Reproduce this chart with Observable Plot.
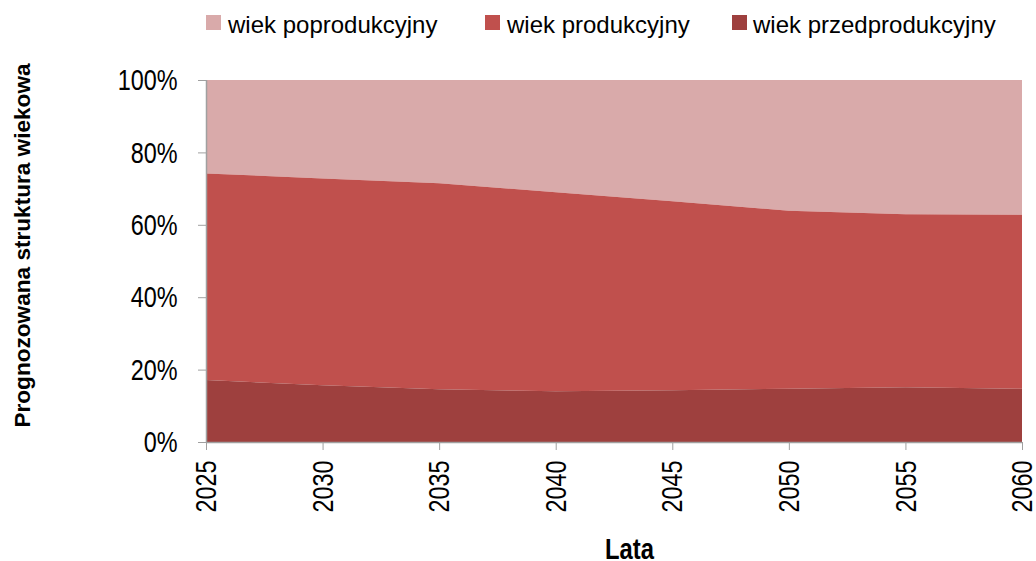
<!DOCTYPE html>
<html>
<head>
<meta charset="utf-8">
<script src="https://cdn.jsdelivr.net/npm/d3@7"></script>
<script src="https://cdn.jsdelivr.net/npm/@observablehq/plot@0.6"></script>
<style>
  html, body { margin: 0; padding: 0; background: #fff; }
  #wrap { position: relative; width: 1036px; height: 561px; overflow: hidden; }
  #legend { position: relative; width: 1036px; height: 50px; font-family: "Liberation Sans", Arial, sans-serif; font-size: 24px; color: #000; }
  #legend .sw { position: absolute; top: 15px; width: 15px; height: 15px; }
  #legend .lb { position: absolute; top: 13px; line-height: 24px; white-space: nowrap; }
  #chart svg { display: block; }
</style>
</head>
<body>
<div id="wrap">
  <div id="legend"></div>
  <div id="chart"></div>
</div>
<script>
// ---- data ----
const years = [2025, 2030, 2035, 2040, 2045, 2050, 2055, 2060];
const seriesNames = ["wiek poprodukcyjny", "wiek produkcyjny", "wiek przedprodukcyjny"];
const poprodukcyjny = [25.8, 27.2, 28.5, 31.0, 33.5, 36.1, 37.1, 37.2];
const produkcyjny = [57.1, 57.1, 56.9, 55.0, 52.2, 49.2, 47.8, 48.1];
const przedprodukcyjny = [17.1, 15.7, 14.6, 14.0, 14.3, 14.7, 15.1, 14.7];
const yTicks = [0, 20, 40, 60, 80, 100];
const yTitle = "Prognozowana struktura wiekowa";
const xTitle = "Lata";

const colors = ["#d9aaaa", "#c0504d", "#9e403e"];
const seriesValues = [poprodukcyjny, produkcyjny, przedprodukcyjny];

const rows = [];
seriesNames.forEach((name, s) => {
  years.forEach((yr, i) => rows.push({ year: yr, group: name, value: seriesValues[s][i] }));
});

// ---- legend ----
const legend = document.getElementById("legend");
const legendPos = [[206, 228], [485, 507], [732, 753]];
seriesNames.forEach((name, i) => {
  const sw = document.createElement("div");
  sw.className = "sw";
  sw.style.left = legendPos[i][0] + "px";
  sw.style.background = colors[i];
  legend.appendChild(sw);
  const lb = document.createElement("div");
  lb.className = "lb";
  lb.style.left = legendPos[i][1] + "px";
  lb.textContent = name;
  legend.appendChild(lb);
});

// ---- chart ----
const axisColor = "#a0a0a0";
const sans = "'Liberation Sans', Arial, sans-serif";
const chart = Plot.plot({
  width: 1036,
  height: 511,
  marginLeft: 206,
  marginRight: 14,
  marginTop: 30,
  marginBottom: 119,
  style: { fontFamily: sans, fontSize: "30px", color: "#000", background: "#fff", overflow: "visible" },
  x: { type: "linear", domain: [2025, 2060] },
  y: { domain: [0, 100] },
  color: { domain: seriesNames, range: colors },
  marks: [
    Plot.areaY(rows, Plot.stackY({
      x: "year", y: "value", z: "group", fill: "group",
      order: ["wiek przedprodukcyjny", "wiek produkcyjny", "wiek poprodukcyjny"]
    })),
    Plot.ruleX([2025], { stroke: axisColor, strokeWidth: 1.5 }),
    Plot.ruleY([0], { stroke: axisColor, strokeWidth: 1.5 }),
    Plot.axisY({ ticks: yTicks, tickFormat: d => d + "%", tickSize: 8, tickPadding: 21, label: null, stroke: axisColor, fill: "#000" }),
    Plot.axisX({ ticks: years, tickFormat: d => String(d), tickRotate: -90, tickSize: 8, tickPadding: 10, label: null, stroke: axisColor, fill: "#000" }),
    Plot.text([yTitle], { frameAnchor: "left", textAnchor: "middle", lineAnchor: "middle", rotate: -90, dx: -184, dy: -16, fontWeight: "bold", fontSize: 22.6, fill: "#000" }),
    Plot.text([xTitle], { frameAnchor: "bottom", textAnchor: "middle", lineAnchor: "middle", dx: 15, dy: 107, fontWeight: "bold", fontSize: 29, fill: "#000" })
  ]
});
document.getElementById("chart").appendChild(chart);

// Arial Narrow–like look: compress glyphs horizontally in place with textLength
function narrowText(el, s) {
  const w = el.getComputedTextLength();
  if (w > 0) {
    el.setAttribute("textLength", (w * s).toFixed(2));
    el.setAttribute("lengthAdjust", "spacingAndGlyphs");
  }
}
const yLabels = new Set(yTicks.map(d => d + "%"));
const xLabels = new Set(years.map(String));
chart.querySelectorAll("text").forEach(el => {
  const t = el.textContent;
  if (yLabels.has(t) || xLabels.has(t)) narrowText(el, 0.78);
  else if (t === xTitle) narrowText(el, 0.82);
});
</script>
</body>
</html>
